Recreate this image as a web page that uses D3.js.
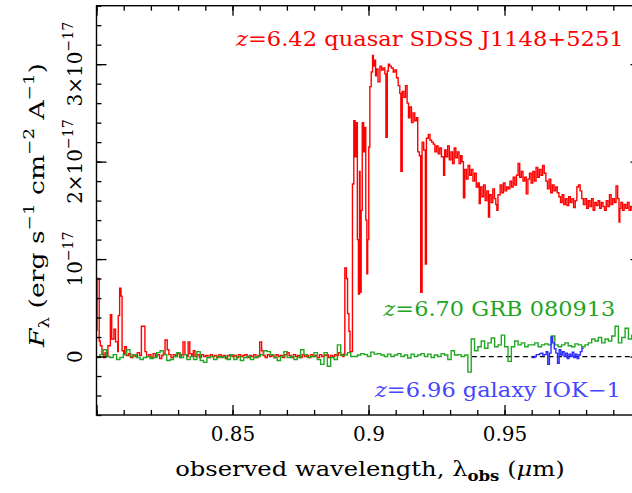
<!DOCTYPE html>
<html lang="en">
<head>
<meta charset="utf-8" />
<title>High-redshift spectra</title>
<script src="https://cdn.jsdelivr.net/npm/d3@7"></script>
<style>
  html, body { margin: 0; background: #fff; }
  svg { display: block; font-family: "DejaVu Serif", serif; }
</style>
</head>
<body>
<script>
// flux in units of 1e-17 erg s^-1 cm^-2 A^-1, wavelength in micron

// quasar SDSS J1148+5251, [bin start, flux]; last bin runs to quasarEnd
const quasar = [
  [0.8000,0.27],[0.8002,0.80],[0.8010,0.16],[0.8014,0.11],[0.8020,0.03],[0.8026,-0.01],[0.8032,0.04],[0.8038,0.00],
  [0.8042,0.11],[0.8051,0.43],[0.8056,0.18],[0.8064,0.28],[0.8070,0.15],[0.8078,0.05],[0.8080,0.42],[0.8085,0.70],
  [0.8090,0.62],[0.8094,0.06],[0.8100,0.02],[0.8104,0.10],[0.8110,0.01],[0.8118,0.03],[0.8126,-0.01],[0.8134,0.02],
  [0.8142,0.00],[0.8150,0.04],[0.8158,0.01],[0.8165,0.31],[0.8178,0.05],[0.8184,0.00],[0.8192,0.02],[0.8200,-0.01],
  [0.8208,0.03],[0.8216,0.00],[0.8224,0.02],[0.8232,-0.02],[0.8240,0.01],[0.8246,0.03],[0.8252,0.17],[0.8260,0.07],
  [0.8266,0.02],[0.8274,-0.01],[0.8282,0.02],[0.8290,0.00],[0.8298,0.03],[0.8306,-0.01],[0.8312,0.02],[0.8318,0.15],
  [0.8325,0.02],[0.8332,0.00],[0.8337,0.15],[0.8343,0.03],[0.8350,0.01],[0.8356,0.06],[0.8362,0.00],[0.8370,0.02],
  [0.8378,-0.01],[0.8386,0.02],[0.8394,0.00],[0.8402,0.01],[0.8410,-0.01],[0.8418,0.02],[0.8426,0.00],[0.8434,0.01],
  [0.8442,-0.01],[0.8450,0.02],[0.8458,0.00],[0.8466,0.01],[0.8474,-0.02],[0.8482,0.01],[0.8490,0.02],[0.8498,0.00],
  [0.8506,0.01],[0.8514,-0.01],[0.8522,0.02],[0.8530,0.00],[0.8538,0.01],[0.8546,0.02],[0.8554,-0.01],[0.8562,0.01],
  [0.8570,0.00],[0.8578,0.02],[0.8586,-0.01],[0.8594,0.01],[0.8600,0.15],[0.8607,0.06],[0.8613,0.01],[0.8620,-0.01],
  [0.8628,0.02],[0.8636,0.00],[0.8644,0.01],[0.8652,-0.01],[0.8660,0.02],[0.8668,0.00],[0.8676,0.01],[0.8684,-0.01],
  [0.8692,0.02],[0.8700,0.04],[0.8708,0.01],[0.8716,-0.01],[0.8724,0.02],[0.8732,0.00],[0.8740,0.01],[0.8748,-0.01],
  [0.8756,0.02],[0.8764,0.00],[0.8772,0.01],[0.8780,-0.01],[0.8788,0.02],[0.8796,0.00],[0.8804,0.01],[0.8812,-0.01],
  [0.8820,0.02],[0.8828,0.00],[0.8836,0.01],[0.8844,0.02],[0.8852,-0.01],[0.8860,0.01],[0.8868,0.00],[0.8876,0.02],
  [0.8884,0.01],[0.8890,0.04],[0.8898,0.02],[0.8905,0.00],[0.8910,0.03],
  [0.8913,0.91],[0.8919,0.80],[0.8923,0.44],[0.8928,0.26],[0.8932,0.05],
  [0.8941,1.77],[0.8946,2.42],[0.8951,2.05],[0.8955,2.40],[0.8959,1.20],[0.8963,0.64],[0.8967,1.90],[0.8969,0.66],
  [0.8973,1.50],[0.8977,2.40],[0.8982,2.10],[0.8985,2.35],[0.8990,1.40],[0.8994,0.85],[0.8997,1.20],[0.9001,2.15],
  [0.9005,2.77],[0.9010,2.92],[0.9015,3.09],[0.9018,2.98],[0.9022,3.04],[0.9026,2.88],[0.9029,2.95],[0.9035,2.82],
  [0.9042,2.98],[0.9048,2.94],[0.9054,2.96],[0.9060,2.90],[0.9064,2.25],[0.9069,2.93],[0.9073,3.00],[0.9078,2.98],
  [0.9084,2.96],[0.9091,2.92],[0.9097,2.94],[0.9103,2.86],[0.9109,2.78],[0.9115,2.70],[0.9119,1.90],[0.9124,2.72],
  [0.9130,2.66],[0.9136,2.78],[0.9142,2.60],[0.9147,2.45],[0.9152,2.56],[0.9158,2.40],[0.9164,2.50],[0.9170,2.42],
  [0.9176,2.45],[0.9181,2.10],[0.9187,2.06],[0.9192,0.66],[0.9197,2.20],[0.9203,2.12],[0.9209,0.95],[0.9213,2.24],
  [0.9220,2.28],[0.9226,2.22],[0.9232,2.20],[0.9238,2.18],[0.9244,2.10],[0.9250,2.16],[0.9256,2.08],[0.9262,2.14],
  [0.9268,2.05],[0.9276,1.86],[0.9280,2.12],[0.9285,2.05],[0.9291,2.16],[0.9297,2.02],[0.9303,2.10],[0.9309,1.98],
  [0.9315,2.14],[0.9321,2.04],[0.9327,2.10],[0.9333,1.98],[0.9339,2.06],[0.9344,2.00],[0.9349,1.63],[0.9354,1.92],
  [0.9360,1.82],[0.9366,1.96],[0.9372,1.86],[0.9378,1.92],[0.9384,1.80],[0.9390,1.88],[0.9396,1.74],[0.9402,1.78],
  [0.9407,1.57],[0.9411,1.74],[0.9417,1.64],[0.9423,1.76],[0.9429,1.60],[0.9435,1.70],[0.9441,1.43],[0.9445,1.66],
  [0.9451,1.58],[0.9457,1.72],[0.9463,1.62],[0.9468,1.56],[0.9472,1.50],[0.9476,1.66],[0.9484,1.76],[0.9490,1.68],
  [0.9496,1.78],[0.9502,1.70],[0.9508,1.74],[0.9514,1.72],[0.9520,1.80],[0.9526,1.74],[0.9532,1.84],[0.9538,1.76],
  [0.9544,1.86],[0.9550,1.98],[0.9556,1.84],[0.9562,1.90],[0.9568,1.80],[0.9574,1.84],[0.9580,1.67],[0.9586,1.82],
  [0.9592,1.88],[0.9598,1.78],[0.9604,1.90],[0.9610,1.80],[0.9616,1.94],[0.9622,1.84],[0.9628,1.92],[0.9634,1.86],
  [0.9640,1.96],[0.9646,1.88],[0.9652,1.80],[0.9658,1.72],[0.9664,1.82],[0.9670,1.68],[0.9676,1.76],[0.9682,1.70],
  [0.9688,1.74],[0.9694,1.68],[0.9700,1.64],[0.9706,1.58],[0.9712,1.66],[0.9718,1.56],[0.9724,1.62],[0.9730,1.55],
  [0.9736,1.64],[0.9742,1.58],[0.9748,1.62],[0.9754,1.53],[0.9760,1.60],[0.9766,1.74],[0.9772,1.76],[0.9778,1.70],
  [0.9784,1.62],[0.9790,1.56],[0.9796,1.62],[0.9802,1.52],[0.9808,1.60],[0.9814,1.54],[0.9820,1.62],[0.9826,1.50],
  [0.9832,1.58],[0.9838,1.55],[0.9844,1.60],[0.9850,1.52],[0.9856,1.58],[0.9862,1.54],[0.9868,1.50],[0.9874,1.60],
  [0.9880,1.54],[0.9886,1.66],[0.9892,1.56],[0.9898,1.62],[0.9904,1.58],[0.9910,1.75],[0.9916,1.62],[0.9921,1.38],
  [0.9924,1.52],[0.9928,1.58],[0.9934,1.50],[0.9940,1.56],[0.9946,1.52],[0.9952,1.58],[0.9958,1.50],[0.9964,1.54],
  [0.9970,1.50],[0.9976,1.55],[0.9982,1.50],[0.9988,1.53],[0.9994,1.48]
];
const quasarEnd = 1.0;

// GRB 080913, linear pixel grid
const grbStart = 0.8000, grbStep = 0.00123;
const grbFlux = [
  -0.01,0.02,0.07,0.00,-0.01,0.02,-0.03,-0.01,0.02,0.07,
  0.00,0.02,-0.01,-0.03,-0.01,0.00,-0.02,-0.01,0.04,0.06,
  0.02,-0.04,-0.03,0.00,0.04,-0.01,0.02,-0.03,0.00,-0.03,
  0.05,-0.04,-0.06,-0.01,0.00,-0.03,0.00,-0.01,0.00,-0.03,
  0.02,-0.03,0.00,-0.04,-0.01,0.00,-0.03,-0.01,0.00,0.02,
  0.06,0.05,0.02,-0.01,-0.04,0.00,0.05,-0.01,0.00,-0.03,
  -0.01,0.07,0.02,-0.01,0.00,0.04,-0.03,-0.08,0.04,-0.10,
  -0.01,-0.03,0.12,
  0.01,0.015,0.04,0.00,0.00,0.015,0.03,0.02,0.00,0.045,
  0.025,0.03,0.015,0.00,0.025,0.00,0.015,0.03,0.00,0.015,
  -0.015,0.025,0.00,0.015,0.03,0.00,0.025,-0.01,0.015,0.00,
  0.03,0.015,-0.03,0.06,0.015,0.02,0.00,0.015,-0.16,0.18,
  0.06,0.10,0.16,0.085,0.14,0.19,0.10,0.12,0.22,0.10,
  -0.05,0.10,0.16,0.12,0.14,0.10,0.12,0.12,0.14,0.10,
  0.12,0.13,0.12,0.21,0.12,0.10,0.12,0.14,0.11,0.10,
  0.13,0.12,0.10,0.12,0.14,0.18,0.16,0.195,0.14,0.18,
  0.16,0.21,0.31,0.14,0.195,0.29,0.18,0.22,0.15,0.20
];

// galaxy IOK-1
const galaxyStart = 0.9599, galaxyStep = 0.0006;
const galaxyFlux = [
  -0.01,-0.01,0.00,0.02,0.02,0.03,0.035,0.015,0.02,0.05,
  -0.08,0.035,0.20,0.14,0.08,0.035,-0.07,0.07,0.015,0.05,
  0.00,0.035,-0.02,0.025,0.00,0.045,-0.01,0.025,-0.02,0.015,
  0.05,0.085
];

const zeroLine = [0.938, 1.0];

const xTicks = [0.85, 0.9, 0.95];
const xTickLabels = ["0.85", "0.9", "0.95"];
const yTicks = [0, 1, 2, 3];
const yTickMantissa = ["0", "", "2×", "3×"];
const yTickExponent = ["", "−17", "−17", "−17"];

const W = 632, H = 493;
const RED = "#ff0000", GREEN = "#22a722", BLUE = "#2a2aff";

const svg = d3.select("body").append("svg")
    .attr("width", W).attr("height", H);
svg.append("rect").attr("width", W).attr("height", H).attr("fill", "#fff");

const x = d3.scaleLinear().domain([0.8, 1.0]).range([96.5, 640.5]);
const y = d3.scaleLinear().domain([-0.6, 3.6]).range([415, 5.7]);

svg.append("defs").append("clipPath").attr("id", "plot")
  .append("rect")
    .attr("x", x(0.8)).attr("y", y(3.6))
    .attr("width", x(1.0) - x(0.8)).attr("height", y(-0.6) - y(3.6));

const step = d3.line()
    .x(d => x(d[0]))
    .y(d => y(d[1]))
    .curve(d3.curveStepAfter);

const grid = (start, dw, flux) => {
  const pts = flux.map((f, i) => [start + i * dw, f]);
  pts.push([start + flux.length * dw, flux[flux.length - 1]]);
  return pts;
};

const plot = svg.append("g").attr("clip-path", "url(#plot)");

plot.append("path")
    .attr("d", d3.line()([[x(zeroLine[0]), y(0)], [x(zeroLine[1]), y(0)]]))
    .attr("stroke", "#000").attr("stroke-width", 1.3)
    .attr("stroke-dasharray", "5,3.5");

plot.append("path")
    .attr("d", step([...quasar, [quasarEnd, quasar[quasar.length - 1][1]]]))
    .attr("fill", "none").attr("stroke", RED).attr("stroke-width", 1.4);

plot.append("path")
    .attr("d", step(grid(grbStart, grbStep, grbFlux)))
    .attr("fill", "none").attr("stroke", GREEN).attr("stroke-width", 1.4);

plot.append("path")
    .attr("d", step(grid(galaxyStart, galaxyStep, galaxyFlux)))
    .attr("fill", "none").attr("stroke", BLUE).attr("stroke-width", 1.4);

// ticks point inward on all four sides
const xMajor = d3.range(0.8, 1.001, 0.05);
const xMinor = d3.range(0.8, 1.001, 0.01);
const yMajor = d3.range(-0.6, 3.61, 0.2).filter(v => Math.abs(v - Math.round(v)) < 1e-6);
const yMinor = d3.range(-0.6, 3.61, 0.2);

function tickAxis(axis, transform) {
  svg.append("g").attr("transform", transform)
    .call(axis)
    .call(g => g.select(".domain").remove())
    .call(g => g.selectAll("line").attr("stroke", "#000").attr("stroke-width", 1.3));
}
const [X0, X1] = x.range(), [Y0, Y1] = y.range();
tickAxis(d3.axisBottom(x).tickValues(xMinor).tickSize(-5).tickFormat(""), `translate(0,${Y0})`);
tickAxis(d3.axisBottom(x).tickValues(xMajor).tickSize(-10).tickFormat(""), `translate(0,${Y0})`);
tickAxis(d3.axisTop(x).tickValues(xMinor).tickSize(-5).tickFormat(""), `translate(0,${Y1})`);
tickAxis(d3.axisTop(x).tickValues(xMajor).tickSize(-10).tickFormat(""), `translate(0,${Y1})`);
tickAxis(d3.axisLeft(y).tickValues(yMinor).tickSize(-5).tickFormat(""), `translate(${X0},0)`);
tickAxis(d3.axisLeft(y).tickValues(yMajor).tickSize(-10).tickFormat(""), `translate(${X0},0)`);
tickAxis(d3.axisRight(y).tickValues(yMinor).tickSize(-5).tickFormat(""), `translate(${X1},0)`);
tickAxis(d3.axisRight(y).tickValues(yMajor).tickSize(-10).tickFormat(""), `translate(${X1},0)`);

svg.append("rect")
    .attr("x", X0).attr("y", Y1).attr("width", X1 - X0).attr("height", Y0 - Y1)
    .attr("fill", "none").attr("stroke", "#000").attr("stroke-width", 1.4);

// x tick labels
svg.append("g").attr("transform", `translate(0,${Y0})`)
  .call(d3.axisBottom(x).tickValues(xTicks).tickSize(0).tickPadding(12)
        .tickFormat((d, i) => xTickLabels[i]))
  .call(g => g.select(".domain").remove())
  .attr("font-family", "DejaVu Serif").attr("font-size", 20);

// y tick labels, rotated
const yl = svg.append("g").selectAll("g").data(yTicks).join("g")
    .attr("transform", d => `translate(82,${y(d)}) rotate(-90)`)
  .append("text")
    .attr("text-anchor", "middle").attr("font-size", 20);
yl.append("tspan").text((d, i) => yTickMantissa[i] === "" && yTickExponent[i] === "" ? "0" : yTickMantissa[i] + (yTickExponent[i] ? "10" : ""));
yl.append("tspan").attr("font-size", 14).attr("dy", -9).text((d, i) => yTickExponent[i]);

// text helper: stretch along the baseline to the reference length
function label(x0, y0, rot, anchor, len, build) {
  const t = svg.append("g")
      .attr("transform", `translate(${x0},${y0}) rotate(${rot})`)
    .append("text").attr("text-anchor", anchor).attr("font-size", 20.5);
  build(t);
  if (len) t.attr("transform", `scale(${len / t.node().getComputedTextLength()},1)`);
  return t;
}
const sub = (t, s, dy) => t.append("tspan").attr("font-size", 14).attr("dy", dy).text(s);
const plain = (t, s, dy) => t.append("tspan").attr("dy", dy || 0).text(s);
const ital = (t, s) => t.append("tspan").attr("font-style", "italic").text(s);

label(236, 45.5, 0, "start", 388, t => {
  t.attr("fill", RED); ital(t, "z"); plain(t, "=6.42 quasar SDSS J1148+5251");
});
label(383.5, 315.5, 0, "start", 232, t => {
  t.attr("fill", "#1fa51f"); ital(t, "z"); plain(t, "=6.70 GRB 080913");
});
label(375, 397, 0, "start", 246, t => {
  t.attr("fill", "#4646ff"); ital(t, "z"); plain(t, "=6.96 galaxy IOK−1");
});

label(370, 476, 0, "middle", 390, t => {
  plain(t, "observed wavelength, λ");
  sub(t, "obs", 5).attr("font-weight", "bold");
  plain(t, " (", -5); ital(t, "μ"); plain(t, "m)");
});

label(44, 205, -90, "middle", 284, t => {
  ital(t, "F"); sub(t, "λ", 5);
  plain(t, " (erg s", -5); sub(t, "−1", -10);
  plain(t, " cm", 10); sub(t, "−2", -10);
  plain(t, " A", 10); sub(t, "−1", -10);
  plain(t, ")", 10);
});
</script>
</body>
</html>
